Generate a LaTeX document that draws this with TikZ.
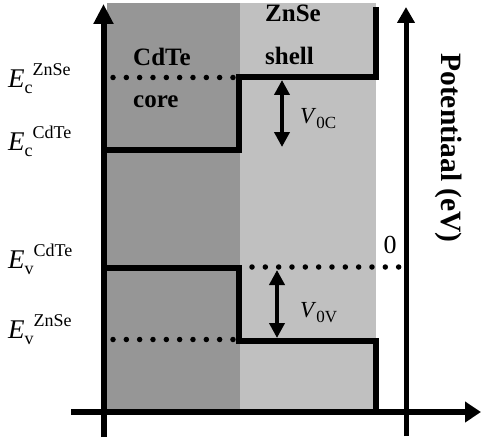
\documentclass[tikz,border=0pt]{standalone}
\usepackage{fontspec}
\setmainfont{Liberation Serif}
\usetikzlibrary{arrows.meta}
\definecolor{coregray}{RGB}{150,150,150}
\definecolor{shellgray}{RGB}{192,192,192}
\newcommand{\fsz}[1]{\fontsize{#1}{#1}\selectfont}
\newcommand{\Elab}[2]{{\fsz{27}\textit{E}}\raisebox{-6pt}{\fsz{18}#1}\raisebox{12pt}{\fsz{18}#2}}
\newcommand{\Vlab}[1]{{\fsz{23}\textit{V}}\raisebox{-5pt}{\fsz{17}#1}}
\begin{document}
\begin{tikzpicture}[x=1pt,y=-1pt,
  level/.style={line width=6pt, line join=miter},
  dotline/.style={line width=5.5pt, line cap=round, dash pattern=on 0pt off 13.33pt},
  axisline/.style={line width=6pt},
  gap/.style={line width=4pt, {Triangle[length=15pt,width=15pt]}-{Triangle[length=15pt,width=15pt]}},
  lbl/.style={inner sep=0pt, anchor=base west},
  boldlbl/.style={inner sep=0pt, anchor=base west, font=\fsz{25}\bfseries}]
\useasboundingbox (0,0) rectangle (481,441);
% regions
\fill[coregray] (107,3) rectangle (240,412);
\fill[shellgray] (240,3) rectangle (376,412);
% coordinates
\coordinate (ylb) at (103.5,437);
\coordinate (ylt) at (103.5,4);
\coordinate (xl) at (71,412);
\coordinate (xr) at (481,412);
\coordinate (yrb) at (406,436);
\coordinate (yrt) at (406,7);
\coordinate (c1) at (103.5,150);
\coordinate (c2) at (239,150);
\coordinate (c3) at (239,77.5);
\coordinate (c4) at (375.5,77.5);
\coordinate (c5) at (375.5,7);
\coordinate (v1) at (103.5,267.5);
\coordinate (v2) at (239,267.5);
\coordinate (v3) at (239,340.5);
\coordinate (v4) at (375.5,340.5);
\coordinate (v5) at (375.5,412);
\coordinate (dc1) at (113,77.5);
\coordinate (dc2) at (233,77.5);
\coordinate (dv1) at (113,339.5);
\coordinate (dv2) at (233,339.5);
\coordinate (dz1) at (252,267);
\coordinate (dz2) at (399,267);
\coordinate (ac1) at (282,80);
\coordinate (ac2) at (282,147);
\coordinate (av1) at (277,270);
\coordinate (av2) at (277,338);
% levels
\draw[level] (c1) -- (c2) -- (c3) -- (c4) -- (c5);
\draw[level] (v1) -- (v2) -- (v3) -- (v4) -- (v5);
\draw[dotline] (dc1) -- (dc2);
\draw[dotline] (dv1) -- (dv2);
\draw[dotline] (dz1) -- (dz2);
% axes
\draw[axisline, -{Triangle[length=20pt,width=19pt]}] (ylb) -- (ylt);
\draw[axisline, -{Triangle[length=16pt,width=20pt]}] (xl) -- (xr);
\draw[line width=5pt, -{Triangle[length=16pt,width=17pt]}] (yrb) -- (yrt);
% gap arrows
\draw[gap] (ac1) -- (ac2);
\draw[gap] (av1) -- (av2);
% labels
\node[lbl] (ecz) at (8,88) {\Elab{c}{ZnSe}};
\node[lbl] (ecc) at (8,150) {\Elab{c}{CdTe}};
\node[lbl] (evc) at (8,268) {\Elab{v}{CdTe}};
\node[lbl] (evz) at (8,338) {\Elab{v}{ZnSe}};
\node[boldlbl] (cdte) at (133,66) {CdTe};
\node[boldlbl] (core) at (133,107) {core};
\node[boldlbl] (znse) at (265,22) {ZnSe};
\node[boldlbl] (shell) at (265,65) {shell};
\node[lbl] (v0c) at (300,123) {\Vlab{0C}};
\node[lbl] (v0v) at (300,317) {\Vlab{0V}};
\node[inner sep=0pt, anchor=base, font=\fsz{26}] (zero) at (390,253) {0};
\node[inner sep=0pt, anchor=base, rotate=-90, font=\fsz{29.5}\bfseries] (pot) at (441,148) {Potentiaal (eV)};
\end{tikzpicture}
\end{document}
